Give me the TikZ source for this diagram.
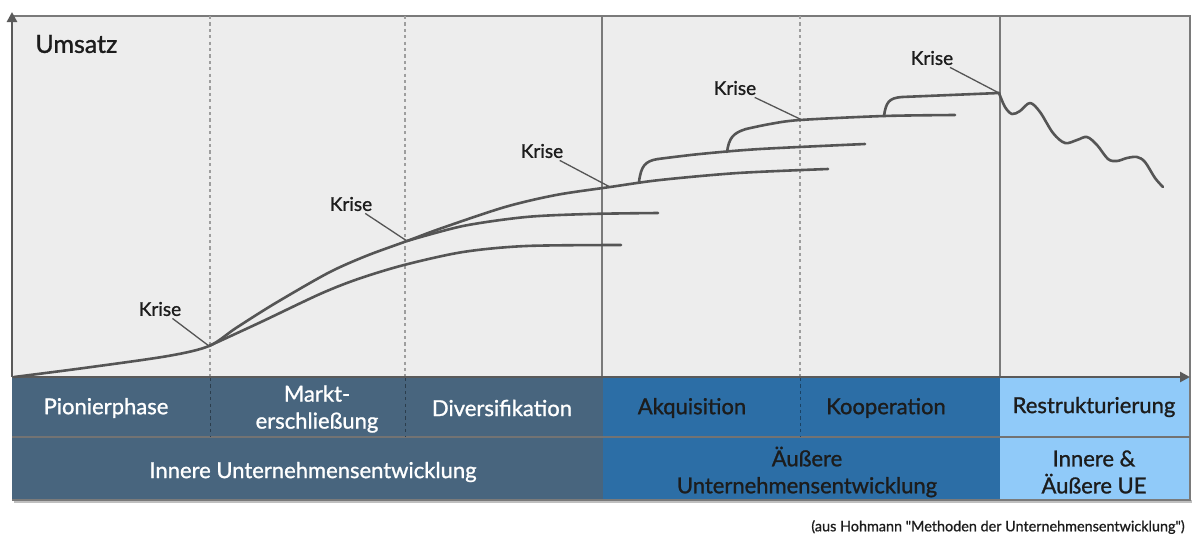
\documentclass[tikz,border=0pt]{standalone}
\usepackage{fontspec}
\setmainfont{Lato}[FakeBold=1.1]
\newfontfamily\capfont{Lato}[FakeBold=0.8]
\usetikzlibrary{arrows.meta}
\definecolor{plotbg}{HTML}{EDEDED}
\definecolor{curve}{HTML}{555555}
\definecolor{axisc}{HTML}{5A5A5A}
\definecolor{framec}{HTML}{7A7A7A}
\definecolor{innerc}{HTML}{48657E}
\definecolor{outerc}{HTML}{2C6EA6}
\definecolor{bothc}{HTML}{90CAF9}
\definecolor{txtdark}{HTML}{1C1C1C}
\begin{document}
\begin{tikzpicture}[x=0.5pt,y=-0.5pt,
  curveline/.style={draw=curve,line width=1.3pt,line cap=round,line join=round},
  leader/.style={draw=curve,line width=0.65pt},
  axisline/.style={draw=axisc,line width=1.3pt,-{Triangle[length=5pt,width=5pt]}},
  gridsolid/.style={draw=framec,line width=0.7pt},
  griddot/.style={draw=black!38,line width=0.6pt,dash pattern=on 1.6pt off 1.6pt},
  celldot/.style={draw=black!45,line width=0.5pt,dash pattern=on 1.6pt off 1.6pt},
  krise/.style={font=\fontsize{9.5}{11}\selectfont,text=txtdark,inner sep=1pt},
  celltext/.style={font=\fontsize{11}{13.5}\selectfont,align=center,inner sep=0pt},
  lighttext/.style={celltext,text=white},
  darktext/.style={celltext,text=txtdark}]
\useasboundingbox[fill=white] (0,0) rectangle (1200,547);

% plot area
\fill[plotbg] (12,16) rectangle (1190,376);
% table backgrounds
\fill[black!25] (14,500) rectangle (1192,503);
\fill[innerc] (12,377) rectangle (603,500);
\fill[outerc] (603,377) rectangle (1000,500);
\fill[bothc] (1000,377) rectangle (1190,500);

% frame
\draw[framec,line width=0.6pt] (12,16) -- (1190,16) -- (1190,500) -- (12,500);
\draw[black!55,line width=1pt] (12,437) -- (1190,437);

% grid lines
\draw[griddot] (210,16) -- (210,376);
\draw[griddot] (405,16) -- (405,376);
\draw[griddot] (800,16) -- (800,376);
\draw[gridsolid] (602,16) -- (602,376);
\draw[gridsolid] (1000,16) -- (1000,376);
\draw[celldot,draw=innerc!60!black] (210,378) -- (210,437);
\draw[celldot,draw=innerc!60!black] (405,378) -- (405,437);
\draw[celldot,draw=outerc!60!black] (800,378) -- (800,437);

% axes
\coordinate (origin) at (12,377);
\coordinate (ytip) at (12,12);
\coordinate (xtip) at (1190,377);
\draw[axisline] (origin) -- (ytip);
\draw[axisline] (origin) -- (xtip);

\node[anchor=west,font=\fontsize{12.5}{15}\selectfont,text=txtdark,inner sep=0pt] (umsatz) at (35,44) {Umsatz};

% crisis points
\coordinate (c1) at (209,346);
\coordinate (c2) at (407,241);
\coordinate (c3) at (610,187);
\coordinate (c4) at (800,119);
\coordinate (c5) at (999,93);

% curves
\draw[curveline] plot[smooth,tension=0.5] coordinates {(14,377) (84,368) (168,356) (209,346) (236,328) (274,304) (328,273) (366,256) (407,241) (442,228) (505,207) (556,195) (610,187) (660,180) (738,173) (828,169)};
\draw[curveline] plot[smooth,tension=0.5] coordinates {(209,346) (261,322) (320,294) (358,279) (404,265) (463,252) (526,246) (621,245)};
\draw[curveline] plot[smooth,tension=0.5] coordinates {(407,241) (463,226) (526,217) (589,214) (658,213)};
% step branch 1
\draw[curveline] (639,182) .. controls (641,166) and (645,161) .. (658,159);
\draw[curveline] plot[smooth,tension=0.5] coordinates {(658,159) (700,154) (760,149) (865,144)};
% step branch 2
\draw[curveline] (727,152) .. controls (729,138) and (733,133) .. (746,129);
\draw[curveline] plot[smooth,tension=0.5] coordinates {(746,129) (770,124) (800,120) (884,116) (955,115)};
% step branch 3
\draw[curveline] (884,116) .. controls (886,102) and (889,98) .. (902,97) -- (999,93);
% decline
\draw[curveline] plot[smooth,tension=0.55] coordinates {(999,93) (1005,107) (1012,114) (1020,111) (1030,103) (1040,112) (1053,133) (1065,143) (1077,140) (1087,137) (1097,145) (1108,159) (1117,161) (1127,158) (1137,157) (1145,162) (1155,178) (1163,187)};

% Krise labels
\node[krise] (k1) at (160,309) {Krise};
\node[krise] (k2) at (351,204) {Krise};
\node[krise] (k3) at (542,151) {Krise};
\node[krise] (k4) at (735,88) {Krise};
\node[krise] (k5) at (932,58) {Krise};
\draw[leader] (k1) -- (c1);
\draw[leader] (k2) -- (c2);
\draw[leader] (k3) -- (c3);
\draw[leader] (k4) -- (c4);
\draw[leader] (k5) -- (c5);

% table text
\node[lighttext] (pion) at (106,408) {Pionierphase};
\node[lighttext] (markt) at (317,409) {Markt-\\erschließung};
\node[lighttext] (divers) at (502,408) {Diversifikation};
\node[darktext] (akqu) at (692,408) {Akquisition};
\node[darktext] (koop) at (886,408) {Kooperation};
\node[darktext] (restr) at (1094,407) {Restrukturierung};
\node[lighttext] (inner) at (313,472) {Innere Unternehmensentwicklung};
\node[darktext] (outer) at (807,472) {Äußere\\Unternehmensentwicklung};
\node[darktext] (both) at (1094,472) {Innere \&\\Äußere UE};

\node[anchor=east,font=\capfont\fontsize{7.2}{9}\selectfont,text=txtdark,inner sep=0pt] (cap) at (1185,527) {(aus Hohmann "Methoden der Unternehmensentwicklung")};
\end{tikzpicture}
\end{document}
